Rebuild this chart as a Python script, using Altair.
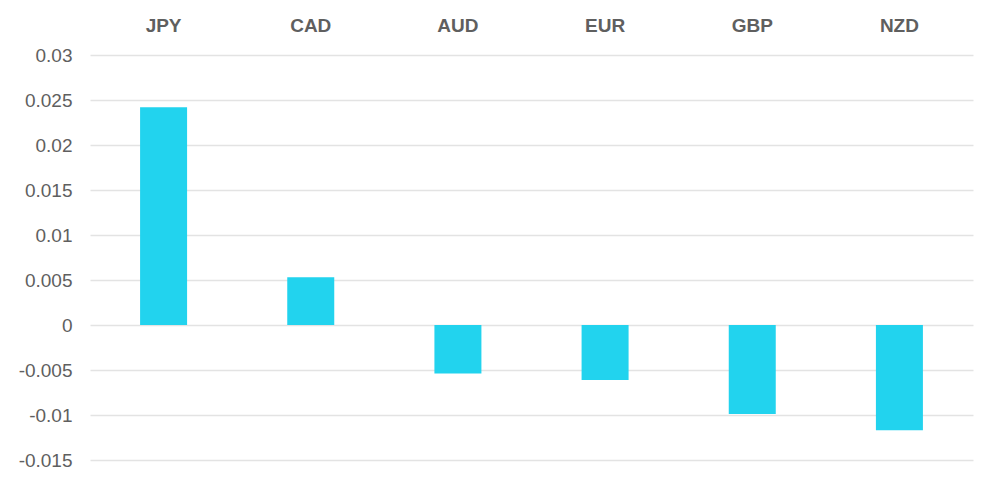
import altair as alt
import pandas as pd

currencies = ["JPY", "CAD", "AUD", "EUR", "GBP", "NZD"]
values = [0.0242, 0.0053, -0.0054, -0.0061, -0.0099, -0.0117]
y_ticks = [-0.015, -0.01, -0.005, 0, 0.005, 0.01, 0.015, 0.02, 0.025, 0.03]

df = pd.DataFrame({"currency": currencies, "value": values})

chart = alt.Chart(df).mark_bar(color="#22d3ee", size=47).encode(
    x=alt.X("currency:N", sort=currencies, title=None,
            scale=alt.Scale(paddingInner=0.68, paddingOuter=0.34),
            axis=alt.Axis(orient="top", labelAngle=0, labelFontSize=19, labelFontWeight="bold",
                          labelColor="#5f5f5f", labelFont="Liberation Sans", domain=False,
                          ticks=False, labelPadding=20, grid=False)),
    y=alt.Y("value:Q", title=None,
            scale=alt.Scale(domain=[-0.015, 0.03], nice=False),
            axis=alt.Axis(values=y_ticks, labelFontSize=19, labelColor="#5f5f5f",
                          labelFont="Liberation Sans", domain=False, ticks=False,
                          labelPadding=18, gridColor="#e3e3e3", gridWidth=1.5,
                          labelExpr="replace(format(datum.value, ''), '\u2212', '-')")),
).properties(
    width=883, height=405,
    autosize=alt.AutoSizeParams(type="none"),
    padding={"left": 90, "top": 55, "right": 27, "bottom": 27},
).configure_view(stroke=None)

chart.save("out.html", embed_options={"renderer": "svg", "actions": False})
